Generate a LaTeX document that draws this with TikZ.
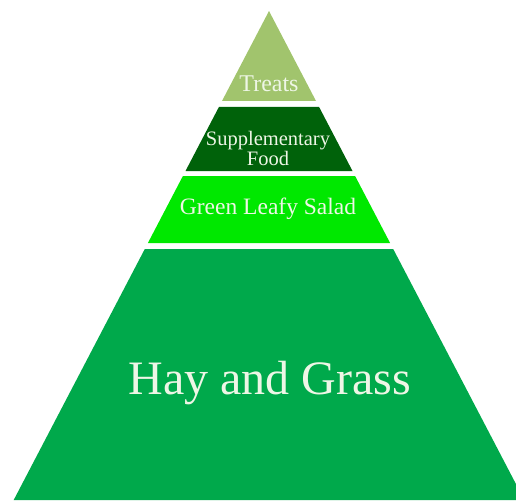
\documentclass[tikz,border=0pt]{standalone}
\usepackage{fontspec}
\setmainfont{Liberation Serif}
\definecolor{treatsc}{HTML}{A1C46D}
\definecolor{suppc}{HTML}{00620A}
\definecolor{leafyc}{HTML}{00E800}
\definecolor{hayc}{HTML}{00A94B}
\definecolor{txtc}{HTML}{EEF6E6}
\begin{document}
\begin{tikzpicture}[x=1pt,y=-1pt,
  lbl/.style={text=txtc, inner sep=0pt, align=center}]
\useasboundingbox (0,0) rectangle (516,500);
\clip (0,0) rectangle (516,500);
% layers
\fill[treatsc] (269,11) -- (316,101) -- (222,101) -- cycle;
\fill[suppc] (218.9,107) -- (319.1,107) -- (352.5,171) -- (185.5,171) -- cycle;
\fill[leafyc] (182.9,176) -- (355.1,176) -- (390.1,243) -- (147.9,243) -- cycle;
\fill[hayc] (144.8,249) -- (393.2,249) -- (524.3,500) -- (13.7,500) -- cycle;
% labels
\node[lbl, font=\fontsize{24}{26}\selectfont] (treats) at (269,84) {Treats};
\node[lbl, font=\fontsize{20.5}{20}\selectfont] (supp) at (268,148) {Supplementary\\Food};
\node[lbl, font=\fontsize{23.5}{25}\selectfont] (leafy) at (268,209) {Green Leafy Salad};
\node[lbl, font=\fontsize{48}{50}\selectfont] (hay) at (270,383) {Hay and Grass};
\end{tikzpicture}
\end{document}
